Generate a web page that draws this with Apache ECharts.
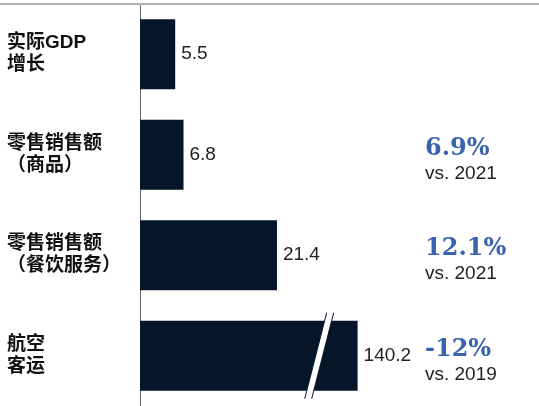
<!DOCTYPE html>
<html>
<head>
<meta charset="utf-8">
<script src="https://cdn.jsdelivr.net/npm/echarts@6/dist/echarts.min.js"></script>
<style>
html,body{margin:0;padding:0;background:#fff;}
#c{width:539px;height:406px;}
</style>
</head>
<body>
<div id="c"></div>
<script>
const categories = ['实际GDP\n增长', '零售销售额\n（商品）', '零售销售额\n（餐饮服务）', '航空\n客运'];
const values = [5.5, 6.8, 21.4, 140.2];
const changes = ['', '6.9%', '12.1%', '-12%'];
const bases = ['', 'vs. 2021', 'vs. 2021', 'vs. 2019'];
const breakCap = 34; // displayed length of the broken (truncated) bar

const BAR = '#051629';
const chart = echarts.init(document.getElementById('c'), null, {renderer: 'canvas'});
const shown = values.map(v => Math.min(v, breakCap));

chart.setOption({
  animation: false,
  grid: {left: 140, right: 15, top: 4, bottom: 0, containLabel: false},
  xAxis: {
    type: 'value', min: 0, max: 60, show: false
  },
  yAxis: {
    type: 'category', data: categories, inverse: true,
    axisLine: {show: true, lineStyle: {color: '#666', width: 1}},
    axisTick: {show: false},
    splitLine: {show: false},
    axisLabel: {
      align: 'left', margin: 133,
      fontFamily: 'Liberation Sans, Noto Sans CJK SC, sans-serif',
      fontWeight: 'bold', fontSize: 19, lineHeight: 22, color: '#111'
    }
  },
  series: [{
    type: 'bar', data: shown, barWidth: 70,
    itemStyle: {color: BAR},
    label: {
      show: true, position: 'right', distance: 6,
      fontFamily: 'Liberation Sans, Arial, sans-serif', fontSize: 19, color: '#222',
      formatter: p => String(values[p.dataIndex])
    }
  }]
});

const graphics = [{
  type: 'line', shape: {x1: 0, y1: 4, x2: 539, y2: 4},
  style: {stroke: '#b0b0b0', lineWidth: 2}, z: 10
}];

changes.forEach((c, i) => {
  if (!c) return;
  const cy = chart.convertToPixel({yAxisIndex: 0}, i);
  graphics.push({
    type: 'text', x: 425, y: cy - 6,
    style: {text: c, font: 'bold 24px "DejaVu Serif", serif', fill: '#3a63ad',
            textVerticalAlign: 'middle', verticalAlign: 'middle'}
  });
  graphics.push({
    type: 'text', x: 425, y: cy + 19,
    style: {text: bases[i], font: '19px "Liberation Sans", Arial, sans-serif', fill: '#222',
            textVerticalAlign: 'middle', verticalAlign: 'middle'}
  });
});

// break slash on truncated bar(s)
values.forEach((v, i) => {
  if (v <= breakCap) return;
  const cx = chart.convertToPixel({xAxisIndex: 0}, breakCap - 6);
  const cy = chart.convertToPixel({yAxisIndex: 0}, i);
  const h = 43, dx = 11, w = 3.5;
  graphics.push({
    type: 'polygon', z: 20,
    shape: {points: [[cx + dx - w, cy - h], [cx + dx + w, cy - h], [cx - dx + w, cy + h], [cx - dx - w, cy + h]]},
    style: {fill: '#fff'}
  });
  graphics.push({type: 'line', z: 21, shape: {x1: cx + dx - w, y1: cy - h, x2: cx - dx - w, y2: cy + h}, style: {stroke: BAR, lineWidth: 1}});
  graphics.push({type: 'line', z: 21, shape: {x1: cx + dx + w, y1: cy - h, x2: cx - dx + w, y2: cy + h}, style: {stroke: BAR, lineWidth: 1}});
});

chart.setOption({graphic: graphics});
</script>
</body>
</html>
